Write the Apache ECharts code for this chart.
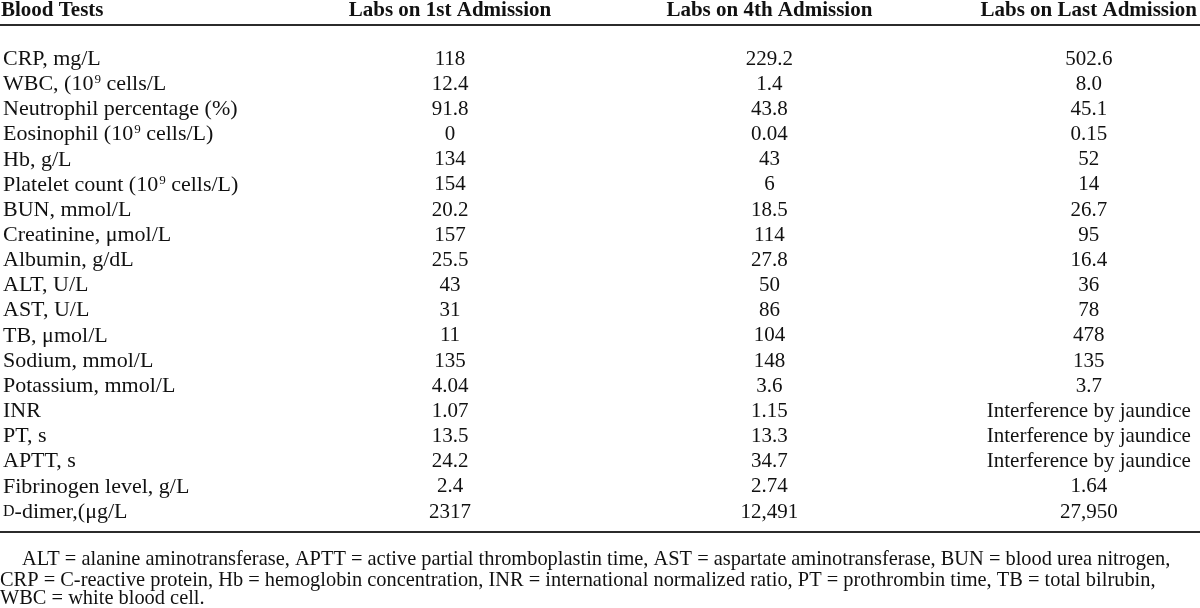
<!DOCTYPE html>
<html>
<head>
<meta charset="utf-8">
<script src="https://cdn.jsdelivr.net/npm/echarts@6/dist/echarts.min.js"></script>
<style>
  html, body { margin: 0; padding: 0; background: #fff; }
  #table { width: 1200px; height: 608px; }
</style>
</head>
<body>
<div id="table"></div>
<script>
// table contents
var tests = [
    'CRP, mg/L',
    'WBC, (10⁹ cells/L',
    'Neutrophil percentage (%)',
    'Eosinophil (10⁹ cells/L)',
    'Hb, g/L',
    'Platelet count (10⁹ cells/L)',
    'BUN, mmol/L',
    'Creatinine, μmol/L',
    'Albumin, g/dL',
    'ALT, U/L',
    'AST, U/L',
    'TB, μmol/L',
    'Sodium, mmol/L',
    'Potassium, mmol/L',
    'INR',
    'PT, s',
    'APTT, s',
    'Fibrinogen level, g/L',
    'D-dimer,(μg/L'
]
var admissions = ['Labs on 1st Admission', 'Labs on 4th Admission', 'Labs on Last Admission']
var labs1st = ['118', '12.4', '91.8', '0', '134', '154', '20.2', '157', '25.5', '43', '31', '11', '135', '4.04', '1.07', '13.5', '24.2', '2.4', '2317']
var labs4th = ['229.2', '1.4', '43.8', '0.04', '43', '6', '18.5', '114', '27.8', '50', '86', '104', '148', '3.6', '1.15', '13.3', '34.7', '2.74', '12,491']
var labsLast = ['502.6', '8.0', '45.1', '0.15', '52', '14', '26.7', '95', '16.4', '36', '78', '478', '135', '3.7',
    'Interference by jaundice', 'Interference by jaundice', 'Interference by jaundice', '1.64', '27,950']
var footnotes = [
    'ALT = alanine aminotransferase, APTT = active partial thromboplastin time, AST = aspartate aminotransferase, BUN = blood urea nitrogen,',
    'CRP = C-reactive protein, Hb = hemoglobin concentration, INR = international normalized ratio, PT = prothrombin time, TB = total bilrubin,',
    'WBC = white blood cell.'
]

var serif = "'Liberation Serif', 'Times New Roman', serif"
var ink = '#111111'

var columns = [labs1st, labs4th, labsLast]
var series = columns.map(function (vals, k) {
    return {
        type: 'scatter',
        silent: true,
        symbolSize: 0,
        itemStyle: { opacity: 1, color: ink },
        encode: { x: 0, y: 1 },
        data: tests.map(function (t, i) { return [admissions[k], t, vals[i]] }),
        label: {
            show: true,
            position: 'inside',
            color: ink,
            opacity: 1,
            fontFamily: serif,
            fontSize: 21,
            formatter: function (p) { return p.value[2] }
        }
    }
})

// test names: superscript power and small-caps D
function testLabel(name) {
    return name
        .replace('10⁹', '10{sup|9}')
        .replace(/^D-/, '{sc|D}-')
}

var titles = [{
    text: 'Blood Tests',
    left: 1,
    top: 0,
    padding: 0,
    textStyle: { fontFamily: serif, fontSize: 21, fontWeight: 'bold', color: ink }
}]
var noteTop = [550, 571, 589]
var noteLeft = [22, 0, 0]
footnotes.forEach(function (line, i) {
    titles.push({
        text: line,
        left: noteLeft[i],
        top: noteTop[i],
        padding: 0,
        textStyle: { fontFamily: serif, fontSize: 20.4, fontWeight: 'normal', color: ink }
    })
})

var chart = echarts.init(document.getElementById('table'))
chart.setOption({
    animation: false,
    backgroundColor: '#fff',
    title: titles,
    grid: { left: 446, right: 110, top: 45.4, bottom: 83.4 },
    xAxis: {
        type: 'category',
        position: 'top',
        boundaryGap: false,
        data: admissions,
        axisLine: { show: false },
        axisTick: { show: false },
        splitLine: { show: false },
        axisLabel: {
            margin: 36,
            verticalAlign: 'middle',
            fontFamily: serif,
            fontSize: 21,
            fontWeight: 'bold',
            color: ink
        }
    },
    yAxis: {
        type: 'category',
        inverse: true,
        data: tests,
        axisLine: { show: false },
        axisTick: { show: false },
        splitLine: { show: false },
        axisLabel: {
            interval: 0,
            align: 'left',
            margin: 447,
            fontFamily: serif,
            fontSize: 22,
            color: ink,
            formatter: testLabel,
            rich: {
                sup: { fontFamily: serif, fontSize: 13, color: ink, verticalAlign: 'top', lineHeight: 12, padding: [0, 0, 0, 1] },
                sc: { fontFamily: serif, fontSize: 16, color: ink }
            }
        }
    },
    graphic: [
        { type: 'line', shape: { x1: 0, y1: 25, x2: 1200, y2: 25 }, style: { stroke: '#2b2b2b', lineWidth: 2 } },
        { type: 'line', shape: { x1: 0, y1: 532, x2: 1200, y2: 532 }, style: { stroke: '#2b2b2b', lineWidth: 2 } }
    ],
    series: series
})
</script>
</body>
</html>
